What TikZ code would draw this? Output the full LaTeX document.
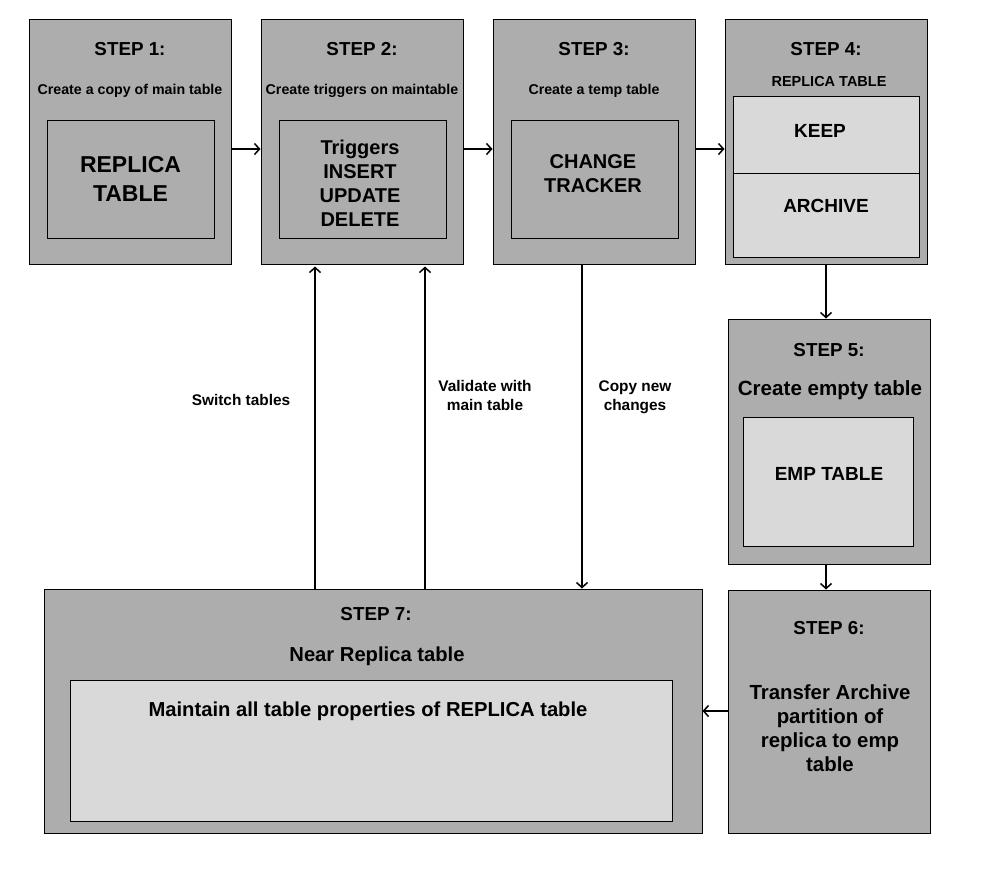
\documentclass[tikz,border=0pt]{standalone}
\usepackage{fontspec}
\setmainfont{Liberation Sans}
\usetikzlibrary{arrows.meta}

\definecolor{boxgray}{HTML}{ADADAD}
\definecolor{lightgray}{HTML}{D9D9D9}

\tikzset{
  stepbox/.style={draw=black, line width=1pt, fill=boxgray, inner sep=0pt},
  innerbox/.style={draw=black, line width=1pt, fill=boxgray, inner sep=0pt, align=center},
  lightbox/.style={draw=black, line width=1pt, fill=lightgray, inner sep=0pt, align=center},
  steptitle/.style={font=\bfseries\fontsize{18.8}{22}\selectfont, inner sep=0pt},
  stepnote/.style={font=\bfseries\fontsize{14.2}{17}\selectfont, inner sep=0pt, align=center},
  flowlabel/.style={font=\bfseries\fontsize{15.4}{19}\selectfont, inner sep=0pt, align=center},
  flow/.style={line width=1.5pt, -{Straight Barb[length=5pt, width=11pt, line width=1.5pt]}}
}

\begin{document}
\begin{tikzpicture}[x=1pt, y=-1pt]
  \useasboundingbox (0,0) rectangle (998,876);

  % step 1
  \node[stepbox, minimum width=202pt, minimum height=245pt] (s1) at (130,141.5) {};
  \node[steptitle] (s1t) at (130,49) {STEP 1:};
  \node[stepnote] (s1n) at (130,91) {Create a copy of main table};
  \node[innerbox, minimum width=167pt, minimum height=118pt,
        font=\bfseries\fontsize{23}{29}\selectfont] (s1i) at (130.5,179) {REPLICA\\TABLE};

  % step 2
  \node[stepbox, minimum width=202pt, minimum height=245pt] (s2) at (362,141.5) {};
  \node[steptitle] (s2t) at (362,49) {STEP 2:};
  \node[stepnote] (s2n) at (362,91) {Create triggers on maintable};
  \node[innerbox, minimum width=167pt, minimum height=118pt] (s2i) at (362.5,179) {};
  \node[font=\bfseries\fontsize{20}{24}\selectfont, align=center, inner sep=0pt]
        (s2x) at (360,183) {Triggers\\INSERT\\UPDATE\\DELETE};

  % step 3
  \node[stepbox, minimum width=202pt, minimum height=245pt] (s3) at (594,141.5) {};
  \node[steptitle] (s3t) at (594,49) {STEP 3:};
  \node[stepnote] (s3n) at (594,91) {Create a temp table};
  \node[innerbox, minimum width=167pt, minimum height=118pt] (s3i) at (594.5,179) {};
  \node[font=\bfseries\fontsize{20}{24}\selectfont, align=center, inner sep=0pt]
        (s3x) at (593,174) {CHANGE\\TRACKER};

  % step 4
  \node[stepbox, minimum width=202pt, minimum height=245pt] (s4) at (826,141.5) {};
  \node[steptitle] (s4t) at (826,49) {STEP 4:};
  \node[stepnote, font=\bfseries\fontsize{14.5}{17}\selectfont] (s4n) at (829,82) {REPLICA TABLE};
  \node[lightbox, minimum width=186pt, minimum height=77pt] (keep) at (826,134.5) {};
  \node[lightbox, minimum width=186pt, minimum height=84pt] (archive) at (826,215) {};
  \node[font=\bfseries\fontsize{19}{23}\selectfont, inner sep=0pt] (keepx) at (820,131) {KEEP};
  \node[font=\bfseries\fontsize{19}{23}\selectfont, inner sep=0pt] (archivex) at (826,206) {ARCHIVE};

  % step 5
  \node[stepbox, minimum width=202pt, minimum height=245pt] (s5) at (829,441.5) {};
  \node[steptitle] (s5t) at (829,350) {STEP 5:};
  \node[font=\bfseries\fontsize{20.6}{24}\selectfont, inner sep=0pt] (s5n) at (830,390) {Create empty table};
  \node[lightbox, minimum width=170pt, minimum height=129pt] (emp) at (828,481.5) {};
  \node[font=\bfseries\fontsize{19}{23}\selectfont, inner sep=0pt] (empx) at (829,474) {EMP TABLE};

  % step 6
  \node[stepbox, minimum width=202pt, minimum height=243pt] (s6) at (829,711.5) {};
  \node[steptitle] (s6t) at (829,628) {STEP 6:};
  \node[font=\bfseries\fontsize{20.4}{24}\selectfont, align=center, inner sep=0pt]
        (s6x) at (830,728) {Transfer Archive\\partition of\\replica to emp\\table};

  % step 7
  \node[stepbox, minimum width=658pt, minimum height=244pt] (s7) at (373,711) {};
  \node[steptitle] (s7t) at (376,614) {STEP 7:};
  \node[font=\bfseries\fontsize{20.2}{24}\selectfont, inner sep=0pt] (s7n) at (377,656) {Near Replica table};
  \node[lightbox, minimum width=602pt, minimum height=141pt] (s7i) at (371,750.5) {};
  \node[font=\bfseries\fontsize{20.2}{24}\selectfont, inner sep=0pt] (s7x) at (368,711) {Maintain all table properties of REPLICA table};

  % connectors
  \coordinate (row) at (0,149);
  \coordinate (col) at (826,0);
  \coordinate (sw) at (315,0);
  \coordinate (va) at (425,0);
  \coordinate (cp) at (582,0);
  \coordinate (mid) at (0,711);
  \draw[flow] (s1.east |- row) -- (s2.west |- row);
  \draw[flow] (s2.east |- row) -- (s3.west |- row);
  \draw[flow] (s3.east |- row) -- (s4.west |- row);
  \draw[flow] (s4.south -| col) -- (s5.north -| col);
  \draw[flow] (s5.south -| col) -- (s6.north -| col);
  \draw[flow] (s6.west |- mid) -- (s7.east |- mid);
  \draw[flow, shorten >=2pt] (s7.north -| sw) -- (s2.south -| sw);
  \draw[flow, shorten >=2pt] (s7.north -| va) -- (s2.south -| va);
  \draw[flow] (s3.south -| cp) -- (s7.north -| cp);

  % arrow labels
  \node[flowlabel] (lsw) at (241,400) {Switch tables};
  \node[flowlabel] (lva) at (485,395) {Validate with\\main table};
  \node[flowlabel] (lcp) at (635,397) {Copy new\\changes};
\end{tikzpicture}
\end{document}
